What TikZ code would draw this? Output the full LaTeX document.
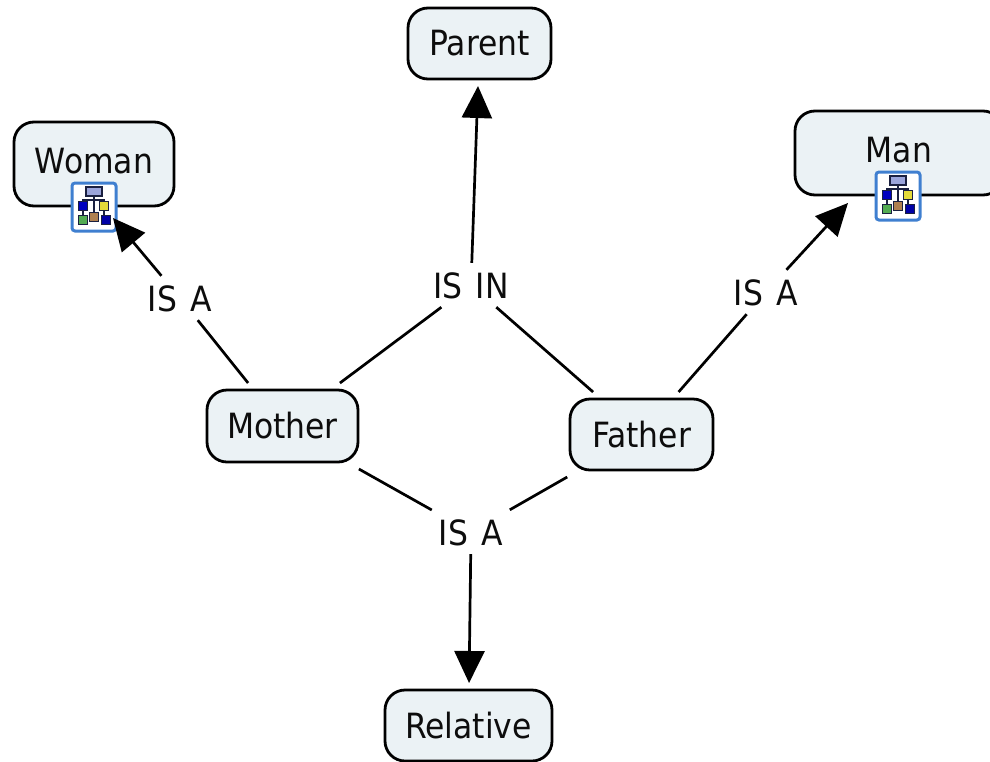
\documentclass[tikz,border=0pt]{standalone}
\usepackage{fontspec}
\setmainfont{DejaVu Sans}
\usetikzlibrary{positioning,arrows.meta}
\definecolor{boxfill}{HTML}{EBF2F5}
\definecolor{iconblue}{HTML}{3F7FD0}
\definecolor{iconnavy}{HTML}{1A2040}
\newcommand{\maptext}[1]{\scalebox{1.03}[1.14]{\spaceskip=13pt\relax #1}}
\tikzset{
        concept/.style={draw=black, line width=2.8pt, fill=boxfill, rounded corners=20pt,
          outer sep=7pt, inner sep=0pt, font=\fontsize{30.5}{34}\selectfont, text=black!95},
        linkword/.style={inner xsep=7pt, inner ysep=9pt, text height=26pt, text depth=0pt,
          font=\fontsize{30.5}{34}\selectfont, text=black!95},
        link/.style={draw=black, line width=2.7pt},
        linkto/.style={link, -{Triangle[length=32pt,width=30pt]}},
        iconcell/.style={draw=iconnavy, line width=1.6pt},
}
% small map icon on a concept
\newcommand{\mapicon}[1]{
  \begin{scope}[shift={(#1)}]
    \draw[iconblue, line width=3pt, fill=white, rounded corners=3pt] (-22,-24) rectangle (22,24);
    \draw[iconnavy, line width=1.8pt] (0,-12) -- (0,6) (-11,-1) -- (-11,-7) -- (10,-7) -- (10,-1)
      (-11,3) -- (-11,10) (10,3) -- (10,10);
    \draw[iconcell, fill=cyan!30!blue!40] (-8,-20) rectangle (8,-11);
    \foreach \x/\y/\c in {-11/-1/blue!75!black,10/-1/yellow!75!gray,-11/13/green!35!gray,0/10/brown!75!gray,12/13/blue!65!black}
      \draw[iconcell, fill=\c] (\x-4.5,\y-4.5) rectangle (\x+4.5,\y+4.5);
  \end{scope}
}

\begin{document}
\begin{tikzpicture}[x=1pt,y=-1pt]
\useasboundingbox (0,0) rectangle (990,761);
\clip (0,0) rectangle (990,761);

\node[concept, minimum width=143pt, minimum height=71pt] (parent) at (479.5,43.5) {\maptext{Parent}};
\node[concept, minimum width=160pt, minimum height=84pt] (woman) at (94,164) {\raisebox{7pt}{\maptext{Woman}}};
\node[concept, minimum width=208pt, minimum height=84pt] (man) at (899,153) {\raisebox{7pt}{\maptext{Man}}};
\node[concept, minimum width=151pt, minimum height=72pt] (mother) at (282.5,426) {\maptext{Mother}};
\node[concept, minimum width=143pt, minimum height=71pt] (father) at (641.5,434.5) {\maptext{Father}};
\node[concept, minimum width=167pt, minimum height=71pt] (relative) at (468.5,725.5) {\maptext{Relative}};

\node[linkword] (isawoman) at (180,298) {\maptext{IS A}};
\node[linkword] (isin) at (471,285) {\maptext{IS IN}};
\node[linkword] (isaman) at (766,292) {\maptext{IS A}};
\node[linkword] (isarelative) at (471,532) {\maptext{IS A}};

\coordinate (womantip) at (113,218);
\coordinate (mantip) at (848,203);

\mapicon{94,207}
\mapicon{898,196}

\draw[link] (mother) -- (isawoman);
\draw[linkto] (isawoman) -- (womantip);
\draw[link] (mother) -- (isin);
\draw[link] (father) -- (isin);
\draw[linkto] (isin) -- (parent);
\draw[link] (father) -- (isaman);
\draw[linkto] (isaman) -- (mantip);
\draw[link] (mother) -- (isarelative);
\draw[link] (father) -- (isarelative);
\draw[linkto] (isarelative) -- (relative);
\end{tikzpicture}
\end{document}
